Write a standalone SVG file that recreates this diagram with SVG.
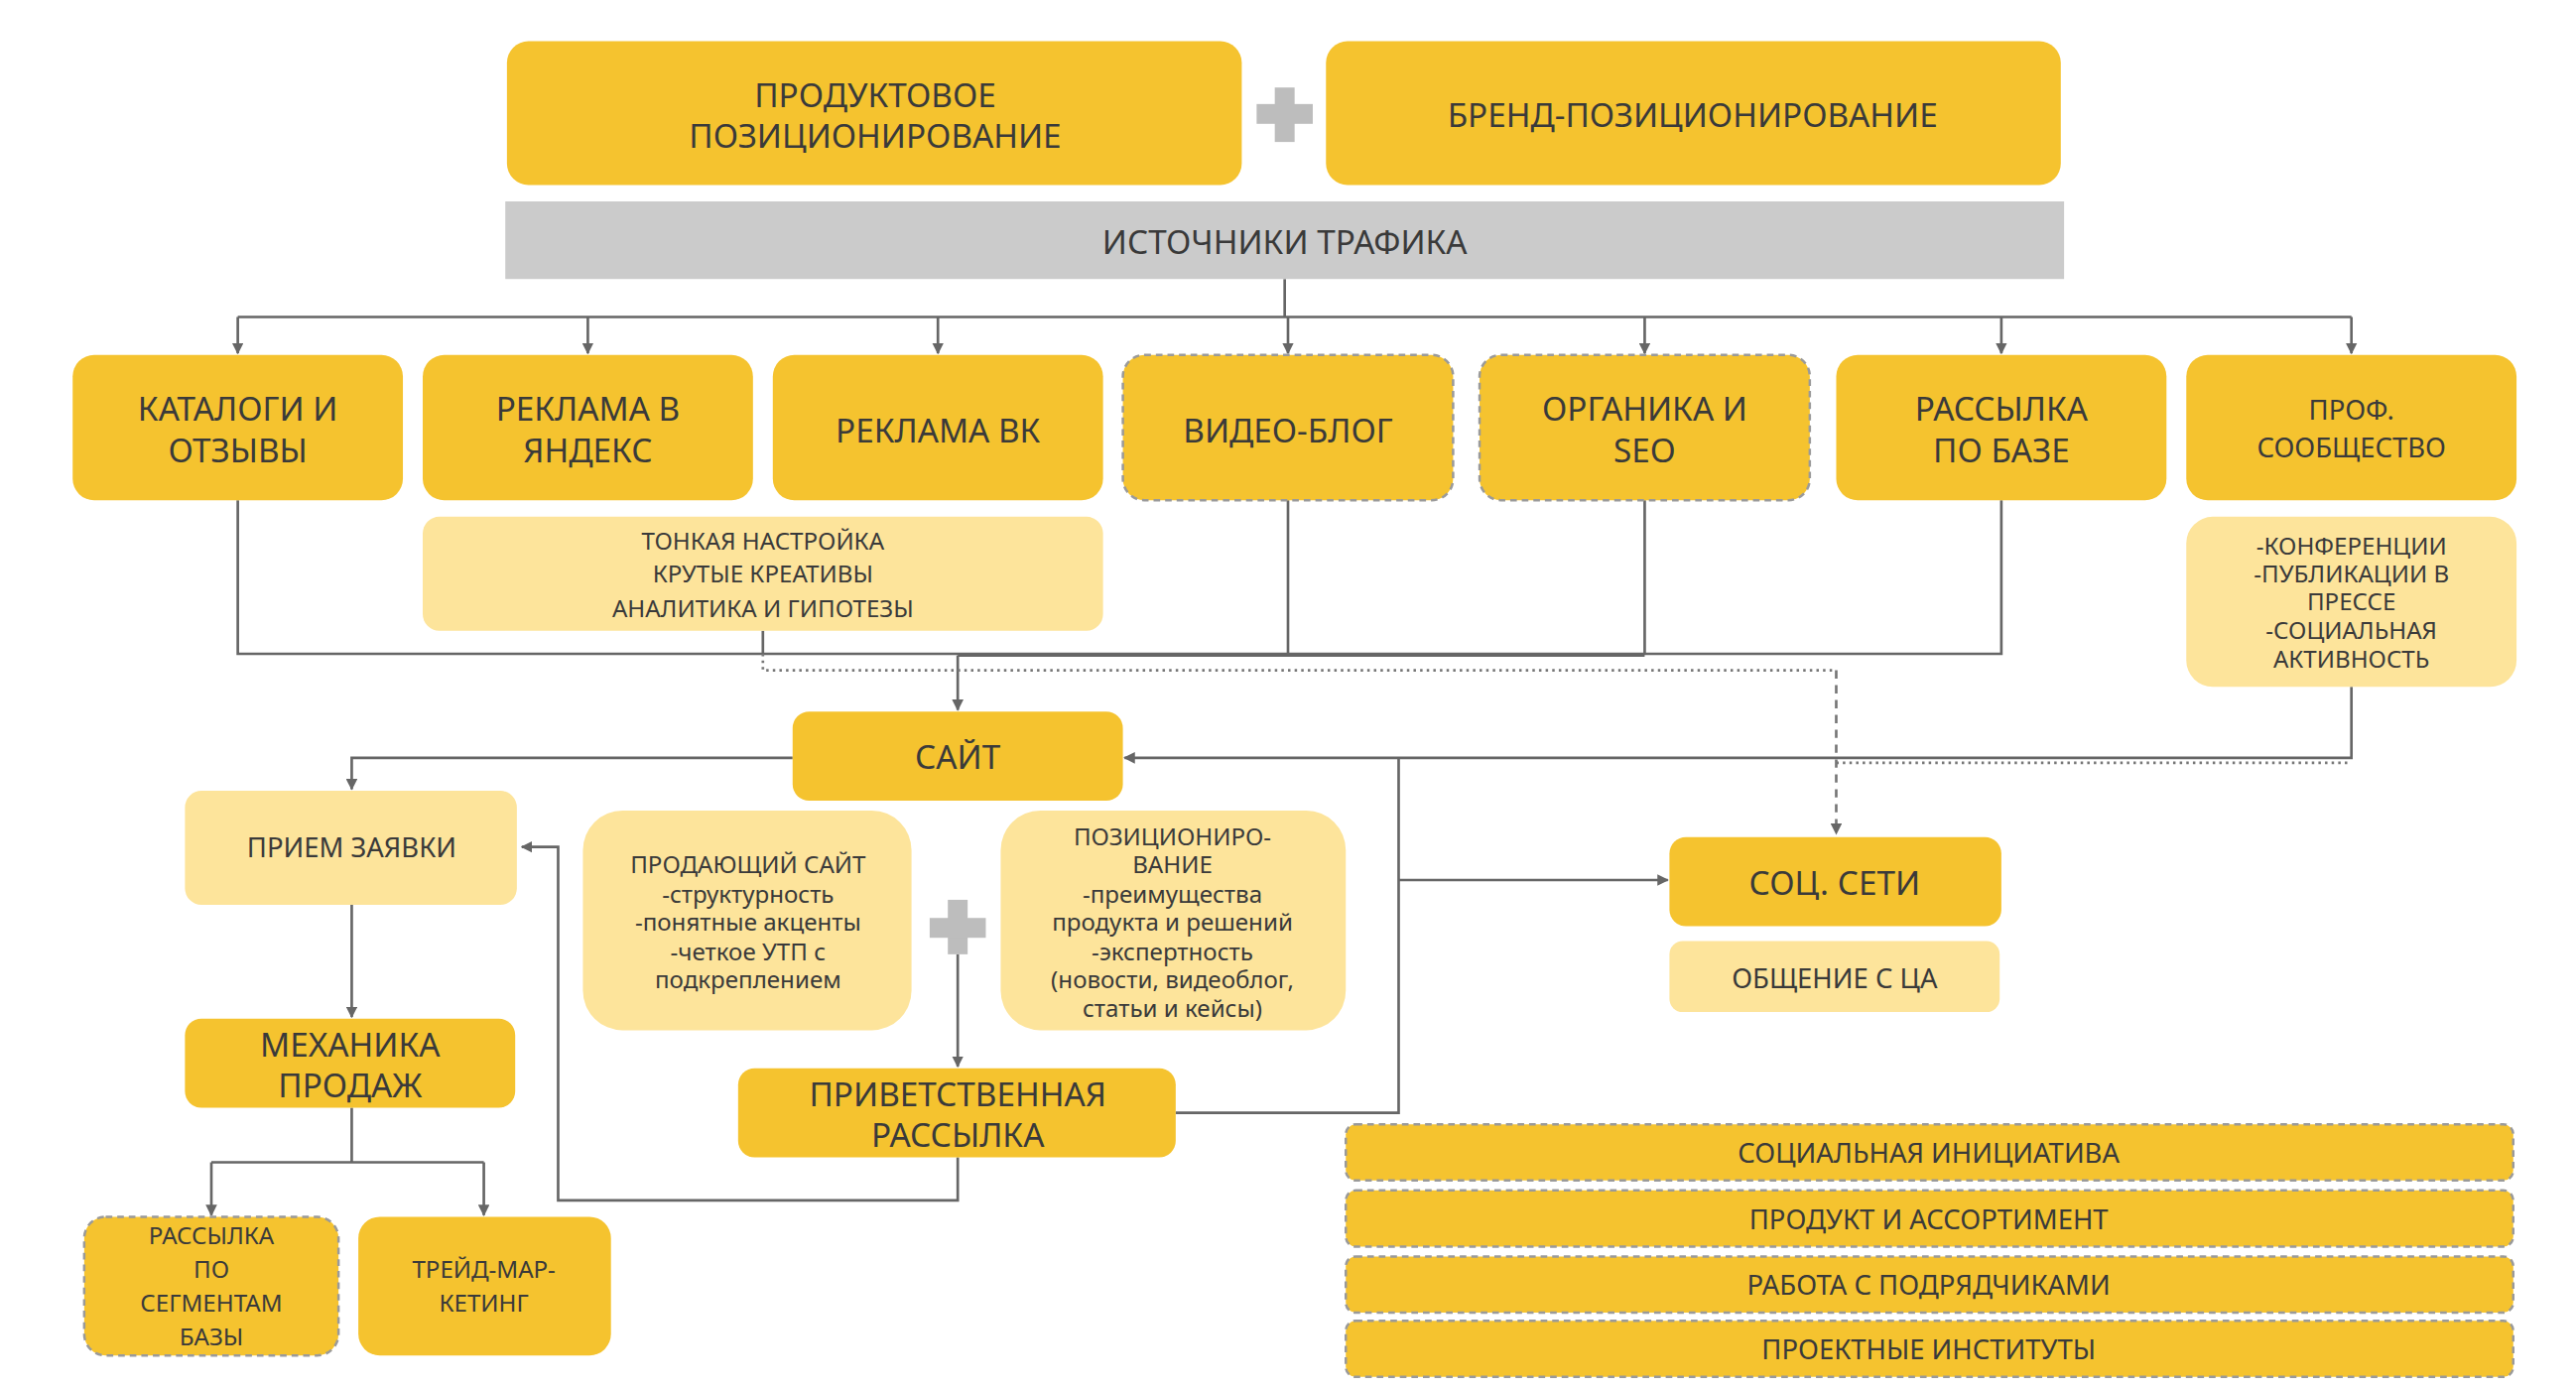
<svg xmlns="http://www.w3.org/2000/svg" width="2596" height="1400" viewBox="0 0 2596 1400">
<style>
.y{fill:#F5C32F}
.l{fill:#FDE49B}
.d{stroke:#9a9a9a;stroke-width:1.5;stroke-dasharray:4 3}
text{font-family:"Noto Sans","DejaVu Sans",sans-serif;fill:#3a3a3a;text-anchor:middle;dominant-baseline:central}
.t20{font-size:20px}
.t17{font-size:16.5px}
.t15{font-size:14.5px}
.c{fill:none;stroke:#666;stroke-width:1.6}
.dot{fill:none;stroke:#777;stroke-width:1.6;stroke-dasharray:1.5 2.5}
.dash{fill:none;stroke:#777;stroke-width:1.6;stroke-dasharray:5 4}
</style>
<defs>
<marker id="a" viewBox="0 0 10 10" refX="9" refY="5" markerWidth="7" markerHeight="7" orient="auto" markerUnits="userSpaceOnUse"><path d="M0,0 L10,5 L0,10 z" fill="#666"/></marker>
</defs>
<rect width="2596" height="1400" fill="#fff"/>
<g transform="scale(1.6641)">
<g id="connectors">
<path class="c" d="M778,169 V192 M144,192 H1424"/>
<path class="c" marker-end="url(#a)" d="M144,192 V214"/>
<path class="c" marker-end="url(#a)" d="M356,192 V214"/>
<path class="c" marker-end="url(#a)" d="M568,192 V214"/>
<path class="c" marker-end="url(#a)" d="M780,192 V214"/>
<path class="c" marker-end="url(#a)" d="M996,192 V214"/>
<path class="c" marker-end="url(#a)" d="M1212,192 V214"/>
<path class="c" marker-end="url(#a)" d="M1424,192 V214"/>
<path class="c" d="M144,303 V396 H1212 V303 M780,303 V396 M996,303 V396 M462,382 V396"/>
<path class="c" stroke-width="2.6" d="M580,397 H996"/>
<path class="c" marker-end="url(#a)" d="M580,397 V430"/>
<path class="dot" d="M462,396 V406 H1112"/>
<path class="dash" marker-end="url(#a)" d="M1112,406 V505"/>
<path class="dot" d="M1112,462 H1424"/>
<path class="c" marker-end="url(#a)" d="M1424,416 V459 H681"/>
<path class="c" marker-end="url(#a)" d="M480,459 H213 V478"/>
<path class="c" marker-end="url(#a)" d="M213,548 V616"/>
<path class="c" d="M213,671 V704 M128,704 H293"/>
<path class="c" marker-end="url(#a)" d="M128,704 V736"/>
<path class="c" marker-end="url(#a)" d="M293,704 V736"/>
<path class="c" marker-end="url(#a)" d="M580,578 V646"/>
<path class="c" d="M712,674 H847 V459"/>
<path class="c" marker-end="url(#a)" d="M847,533 H1010"/>
<path class="c" marker-end="url(#a)" d="M580,701 V727 H338 V513 H316"/>
</g>
<g id="product"><rect class="y" x="307" y="25" width="445" height="87" rx="13"/><text class="t20" x="530" y="57">ПРОДУКТОВОЕ</text><text class="t20" x="530" y="82">ПОЗИЦИОНИРОВАНИЕ</text></g>
<g id="plus1" fill="#bdbdbd"><rect x="772" y="53" width="12" height="33"/><rect x="761" y="63" width="34" height="12"/></g>
<g id="brand"><rect class="y" x="803" y="25" width="445" height="87" rx="13"/><text class="t20" x="1025" y="69">БРЕНД-ПОЗИЦИОНИРОВАНИЕ</text></g>
<g id="sources"><rect x="306" y="122" width="944" height="47" fill="#cbcbcb"/><text class="t20" x="778" y="146">ИСТОЧНИКИ ТРАФИКА</text></g>
<g id="catalogs"><rect class="y" x="44" y="215" width="200" height="88" rx="13"/><text class="t20" x="144" y="247">КАТАЛОГИ И</text><text class="t20" x="144" y="272">ОТЗЫВЫ</text></g>
<g id="yandex"><rect class="y" x="256" y="215" width="200" height="88" rx="13"/><text class="t20" x="356" y="247">РЕКЛАМА В</text><text class="t20" x="356" y="272">ЯНДЕКС</text></g>
<g id="vk"><rect class="y" x="468" y="215" width="200" height="88" rx="13"/><text class="t20" x="568" y="260">РЕКЛАМА ВК</text></g>
<g id="videoblog"><rect class="y d" x="680" y="215" width="200" height="88" rx="13"/><text class="t20" x="780" y="260">ВИДЕО-БЛОГ</text></g>
<g id="seo"><rect class="y d" x="896" y="215" width="200" height="88" rx="13"/><text class="t20" x="996" y="247">ОРГАНИКА И</text><text class="t20" x="996" y="272">SEO</text></g>
<g id="mailing"><rect class="y" x="1112" y="215" width="200" height="88" rx="13"/><text class="t20" x="1212" y="247">РАССЫЛКА</text><text class="t20" x="1212" y="272">ПО БАЗЕ</text></g>
<g id="prof"><rect class="y" x="1324" y="215" width="200" height="88" rx="13"/><text class="t17" x="1424" y="248">ПРОФ.</text><text class="t17" x="1424" y="271">СООБЩЕСТВО</text></g>
<g id="ads-notes"><rect class="l" x="256" y="313" width="412" height="69" rx="10"/><text class="t15" x="462" y="327">ТОНКАЯ НАСТРОЙКА</text><text class="t15" x="462" y="347">КРУТЫЕ КРЕАТИВЫ</text><text class="t15" x="462" y="368">АНАЛИТИКА И ГИПОТЕЗЫ</text></g>
<g id="prof-notes"><rect class="l" x="1324" y="313" width="200" height="103" rx="16"/><text class="t15" x="1424" y="330">-КОНФЕРЕНЦИИ</text><text class="t15" x="1424" y="347">-ПУБЛИКАЦИИ В</text><text class="t15" x="1424" y="364">ПРЕССЕ</text><text class="t15" x="1424" y="381">-СОЦИАЛЬНАЯ</text><text class="t15" x="1424" y="399">АКТИВНОСТЬ</text></g>
<g id="site"><rect class="y" x="480" y="431" width="200" height="54" rx="10"/><text class="t20" x="580" y="458">САЙТ</text></g>
<g id="request"><rect class="l" x="112" y="479" width="201" height="69" rx="10"/><text class="t17" x="213" y="513">ПРИЕМ ЗАЯВКИ</text></g>
<g id="selling-site"><rect class="l" x="353" y="491" width="199" height="133" rx="24"/><text class="t15" x="453" y="523">ПРОДАЮЩИЙ САЙТ</text><text class="t15" x="453" y="541">-структурность</text><text class="t15" x="453" y="558">-понятные акценты</text><text class="t15" x="453" y="576">-четкое УТП с</text><text class="t15" x="453" y="593">подкреплением</text></g>
<g id="plus2" fill="#bdbdbd"><rect x="574" y="545" width="12" height="33"/><rect x="563" y="556" width="34" height="12"/></g>
<g id="positioning"><rect class="l" x="606" y="491" width="209" height="133" rx="24"/><text class="t15" x="710" y="506">ПОЗИЦИОНИРО-</text><text class="t15" x="710" y="523">ВАНИЕ</text><text class="t15" x="710" y="541">-преимущества</text><text class="t15" x="710" y="558">продукта и решений</text><text class="t15" x="710" y="576">-экспертность</text><text class="t15" x="710" y="593">(новости, видеоблог,</text><text class="t15" x="710" y="610">статьи и кейсы)</text></g>
<g id="sales"><rect class="y" x="112" y="617" width="200" height="54" rx="10"/><text class="t20" x="212" y="632">МЕХАНИКА</text><text class="t20" x="212" y="657">ПРОДАЖ</text></g>
<g id="welcome"><rect class="y" x="447" y="647" width="265" height="54" rx="10"/><text class="t20" x="580" y="662">ПРИВЕТСТВЕННАЯ</text><text class="t20" x="580" y="687">РАССЫЛКА</text></g>
<g id="segments"><rect class="y d" x="51" y="737" width="154" height="84" rx="13"/><text class="t15" x="128" y="748">РАССЫЛКА</text><text class="t15" x="128" y="768">ПО</text><text class="t15" x="128" y="789">СЕГМЕНТАМ</text><text class="t15" x="128" y="809">БАЗЫ</text></g>
<g id="trade"><rect class="y" x="217" y="737" width="153" height="84" rx="13"/><text class="t15" x="293" y="768">ТРЕЙД-МАР-</text><text class="t15" x="293" y="789">КЕТИНГ</text></g>
<g id="social"><rect class="y" x="1011" y="507" width="201" height="54" rx="10"/><text class="t20" x="1111" y="534">СОЦ. СЕТИ</text></g>
<g id="ca"><rect class="l" x="1011" y="570" width="200" height="43" rx="8"/><text class="t17" x="1111" y="592">ОБЩЕНИЕ С ЦА</text></g>
<g id="bar1"><rect class="y d" x="815" y="681" width="707" height="34" rx="6"/><text class="t17" x="1168" y="698">СОЦИАЛЬНАЯ ИНИЦИАТИВА</text></g>
<g id="bar2"><rect class="y d" x="815" y="721" width="707" height="34" rx="6"/><text class="t17" x="1168" y="738">ПРОДУКТ И АССОРТИМЕНТ</text></g>
<g id="bar3"><rect class="y d" x="815" y="761" width="707" height="34" rx="6"/><text class="t17" x="1168" y="778">РАБОТА С ПОДРЯДЧИКАМИ</text></g>
<g id="bar4"><rect class="y d" x="815" y="800" width="707" height="34" rx="6"/><text class="t17" x="1168" y="817">ПРОЕКТНЫЕ ИНСТИТУТЫ</text></g>
</g>
</svg>
